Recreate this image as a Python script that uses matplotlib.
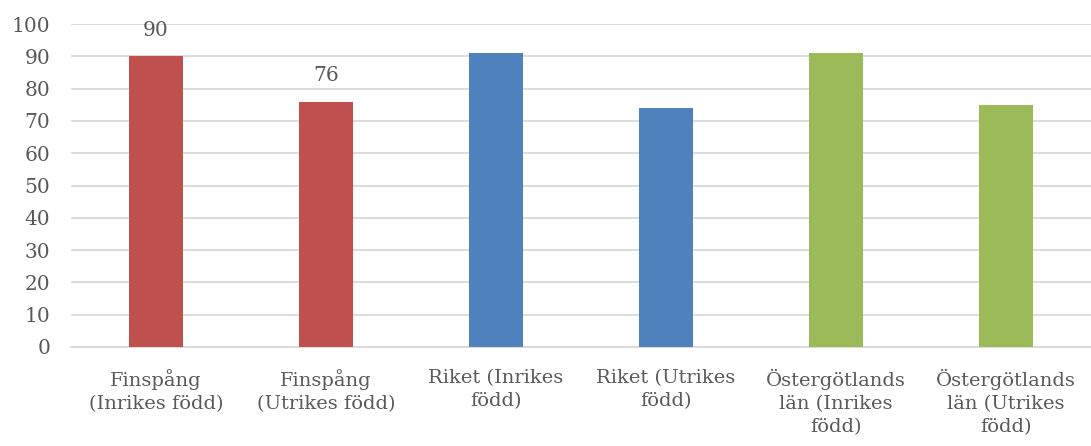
import matplotlib.pyplot as plt

# kategorier och värden
labels = ["Finspång\n(Inrikes född)", "Finspång\n(Utrikes född)",
          "Riket (Inrikes\nfödd)", "Riket (Utrikes\nfödd)",
          "Östergötlands\nlän (Inrikes\nfödd)", "Östergötlands\nlän (Utrikes\nfödd)"]
values = [90, 76, 91, 74, 91, 75]
colors = ["#C0504D", "#C0504D", "#4F81BD", "#4F81BD", "#9BBB59", "#9BBB59"]
shown = [True, True, False, False, False, False]

plt.rcParams['font.family'] = ['DejaVu Serif']
txt = "#595959"

fig = plt.figure(figsize=(10.91, 4.46), dpi=100)
ax = fig.add_axes([71/1091, 99/446, 1 - 71/1091, (347-24)/446])

x = range(len(values))
bars = ax.bar(x, values, width=0.32, color=colors, zorder=3)
for b, v, s in zip(bars, values, shown):
    if s:
        ax.text(b.get_x() + b.get_width()/2, v + 5, str(v), ha='center', va='bottom',
                fontsize=14.5, color=txt)

ax.set_xlim(-0.5, len(values) - 0.5)
ax.set_ylim(0, 100)
ax.set_yticks(range(0, 101, 10))
ax.yaxis.grid(True, color="#D9D9D9", linewidth=1.3, zorder=0)
for sp in ['top', 'right', 'left']:
    ax.spines[sp].set_visible(False)
ax.spines['bottom'].set_color("#D9D9D9")
ax.spines['bottom'].set_linewidth(1.3)
ax.set_xticks(list(x))
ax.set_xticklabels(labels, fontsize=14, color=txt, linespacing=1.35)
ax.tick_params(axis='both', length=0, colors=txt)
ax.tick_params(axis='x', pad=16, labelsize=14)
ax.tick_params(axis='y', pad=15, labelsize=14.5)
for t in ax.get_yticklabels():
    t.set_ha('right')

fig.savefig("out.png", dpi=100)
